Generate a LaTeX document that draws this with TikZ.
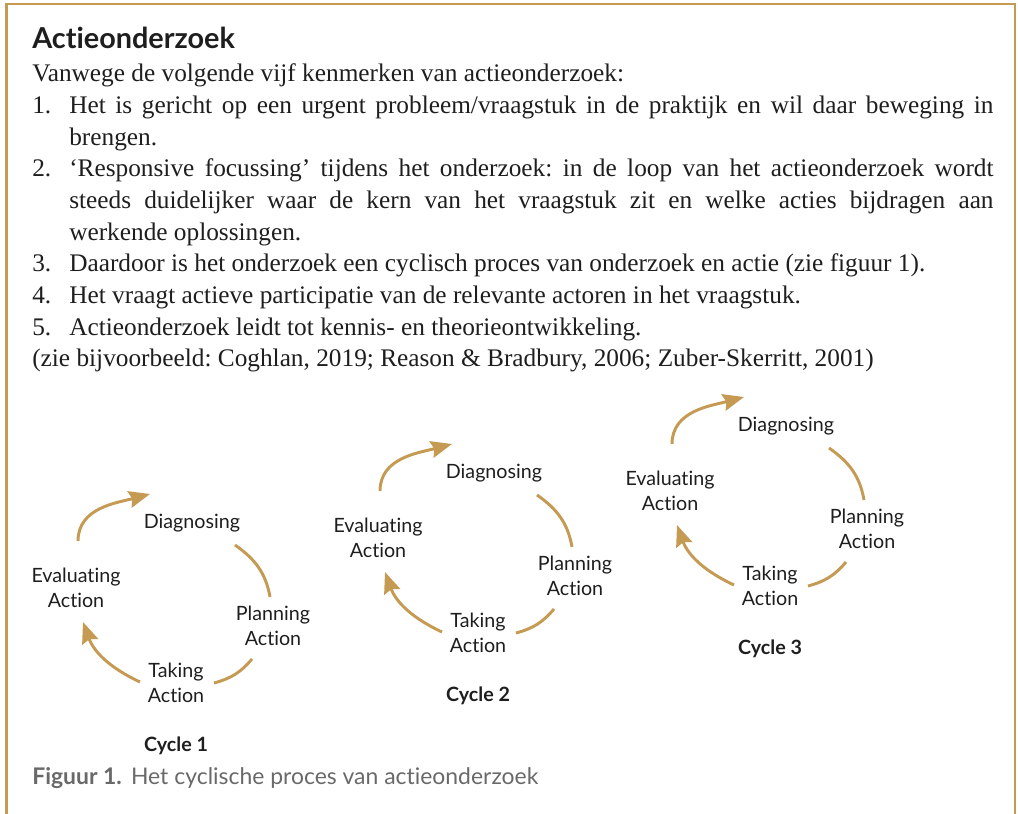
\documentclass[tikz,border=0pt]{standalone}
\usepackage{fontspec}
\usepackage{tikz}
\usetikzlibrary{arrows.meta}
\setmainfont{Liberation Serif}
\newfontfamily\labelfont{Lato}[Ligatures=NoCommon]
\definecolor{kadergoud}{RGB}{197,155,84}
\definecolor{tekstzwart}{RGB}{30,30,30}
\definecolor{tekstgrijs}{RGB}{105,105,105}
\newcommand{\punt}[1]{\par\hangindent=0.925cm\hangafter=1\makebox[0.925cm][l]{#1}}

\begin{document}
\begin{tikzpicture}[x=0.025cm,y=0.025cm,
  tekst/.style={anchor=base west,inner sep=0pt,text width=24.025cm,align=justify,text=tekstzwart,
    font=\fontsize{18}{22.5}\selectfont},
  stap/.style={inner sep=0pt,align=center,text=tekstzwart,
    font=\labelfont\fontsize{14}{17.8}\selectfont},
  cyclus/.style={inner sep=0pt,text=tekstzwart,font=\labelfont\bfseries\fontsize{14}{17}\selectfont},
  boog/.style={draw=kadergoud,line width=2.1pt},
  pijl/.style={boog,-{Stealth[length=15pt,width=12pt,inset=2pt]}}]
\useasboundingbox (0,0) rectangle (1018,814);
\draw[kadergoud,line width=2.1pt] (6.5,0) -- (6.5,810) -- (1015,810) -- (1015,0);

\node[anchor=base west,inner sep=0pt,text=tekstzwart,font=\labelfont\bfseries\fontsize{20.5}{24}\selectfont]
  (kop) at (32,765) {Actieonderzoek};
\node[tekst] (lijst) at (32,732)
{
\hyphenpenalty=10000\frenchspacing
Vanwege de volgende vijf kenmerken van actieonderzoek:
\punt{1.}Het is gericht op een urgent probleem/vraagstuk in de praktijk en wil daar beweging in\linebreak brengen.
\punt{2.}‘Responsive focussing’ tijdens het onderzoek: in de loop van het actieonderzoek wordt\linebreak steeds duidelijker waar de kern van het vraagstuk zit en welke acties bijdragen aan\linebreak werkende oplossingen.
\punt{3.}Daardoor is het onderzoek een cyclisch proces van onderzoek en actie (zie figuur 1).
\punt{4.}Het vraagt actieve participatie van de relevante actoren in het vraagstuk.
\punt{5.}Actieonderzoek leidt tot kennis- en theorieontwikkeling.
\par (zie bijvoorbeeld: Coghlan, 2019; Reason \& Bradbury, 2006; Zuber-Skerritt, 2001)
};

% drie cycli
\foreach \dx/\dy/\n in {0/0/1, 302/50/2, 594/97/3}
{
\begin{scope}[shift={(\dx,\dy)}]
\node[stap] (diag\n) at (192,291) {Diagnosing};
\node[stap] (plan\n) at (273,188) {Planning\\Action};
\node[stap] (take\n) at (176,131) {Taking\\Action};
\node[stap] (eval\n) at (76,226) {Evaluating\\Action};
\node[cyclus] (cyclus\n) at (176,68) {Cycle \n};
\draw[pijl] ([shift={(2,47)}]eval\n.center) to[out=90,in=195] ([shift={(-42,29)}]diag\n.center);
\draw[boog] ([shift={(43,-22)}]diag\n.center) to[out=-35,in=100] ([shift={(-3,29)}]plan\n.center);
\draw[boog] ([shift={(-21,-33)}]plan\n.center) to[out=-130,in=15] ([shift={(38,0)}]take\n.center);
\draw[pijl] ([shift={(-36,1)}]take\n.center) to[out=155,in=-70] ([shift={(7,-34)}]eval\n.center);
\end{scope}
}

\node[anchor=base west,inner sep=0pt,text=tekstgrijs,font=\labelfont\fontsize{16.3}{18}\selectfont]
  (bijschrift) at (32,29) {\bfseries Figuur 1.\hspace{0.4em}\mdseries Het cyclische proces van actieonderzoek};
\end{tikzpicture}
\end{document}
